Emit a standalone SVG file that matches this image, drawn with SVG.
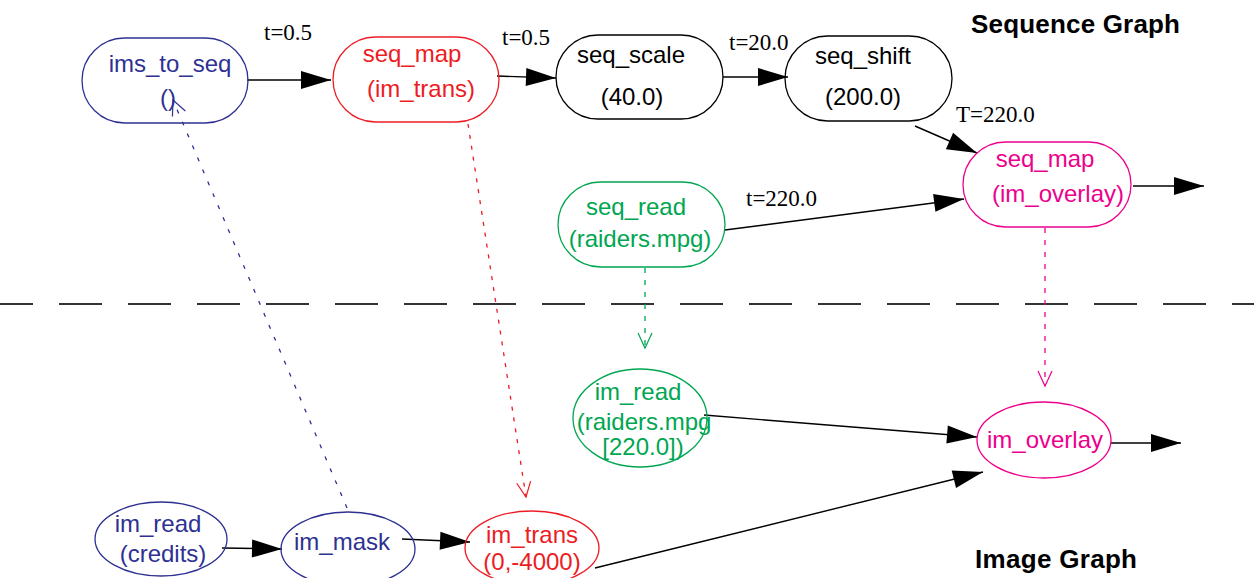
<svg xmlns="http://www.w3.org/2000/svg" width="1254" height="578" viewBox="0 0 1254 578">
<style>
.node{fill:none;stroke-width:1.3}
.nt{font-family:"Liberation Sans",Arial,sans-serif;font-size:24px;text-anchor:middle}
.lbl{font-family:"Liberation Serif","Times New Roman",serif;font-size:23px;fill:#000}
.title{font-family:"Liberation Sans",Arial,sans-serif;font-size:26px;font-weight:bold;fill:#000}
.edge{stroke:#000;stroke-width:1.4;fill:none;marker-end:url(#ah)}
.dash{stroke-width:1.3;fill:none;stroke-dasharray:5 7}
.blue{stroke:#2e3192}.tblue{fill:#2e3192}
.red{stroke:#ed1c24}.tred{fill:#ed1c24}
.green{stroke:#00a651}.tgreen{fill:#00a651}
.mag{stroke:#ec008c}.tmag{fill:#ec008c}
.blk{stroke:#000}.tblk{fill:#000}
</style>
<defs>
<marker id="ah" markerUnits="userSpaceOnUse" markerWidth="30" markerHeight="18" refX="30" refY="9" orient="auto" overflow="visible">
<path d="M0,0 L30,9 L0,18 z" fill="#000"/>
</marker>
<marker id="ob" markerUnits="userSpaceOnUse" markerWidth="16" markerHeight="14" refX="15" refY="7" orient="auto" overflow="visible">
<path d="M0,0 L15,7 L0,14" fill="none" stroke="#2e3192" stroke-width="1.2"/>
</marker>
<marker id="or" markerUnits="userSpaceOnUse" markerWidth="16" markerHeight="14" refX="15" refY="7" orient="auto" overflow="visible">
<path d="M0,0 L15,7 L0,14" fill="none" stroke="#ed1c24" stroke-width="1.2"/>
</marker>
<marker id="og" markerUnits="userSpaceOnUse" markerWidth="16" markerHeight="14" refX="15" refY="7" orient="auto" overflow="visible">
<path d="M0,0 L15,7 L0,14" fill="none" stroke="#00a651" stroke-width="1.2"/>
</marker>
<marker id="om" markerUnits="userSpaceOnUse" markerWidth="16" markerHeight="14" refX="15" refY="7" orient="auto" overflow="visible">
<path d="M0,0 L15,7 L0,14" fill="none" stroke="#ec008c" stroke-width="1.2"/>
</marker>
</defs>
<rect width="1254" height="578" fill="#fff"/>

<text class="title" x="971" y="33" textLength="209">Sequence Graph</text>
<text class="title" x="975" y="568" textLength="162">Image Graph</text>

<line x1="-10" y1="304" x2="1254" y2="304" stroke="#333" stroke-width="2" stroke-dasharray="43 26"/>

<g id="connectors">
<line class="edge" x1="247" y1="80" x2="331" y2="80"/>
<line class="edge" x1="497" y1="76" x2="556" y2="78"/>
<line class="edge" x1="723" y1="77" x2="788" y2="77"/>
<line class="edge" x1="915" y1="126" x2="977" y2="153"/>
<line class="edge" x1="725" y1="230" x2="964" y2="199"/>
<line class="edge" x1="1133" y1="186" x2="1204" y2="186"/>
<line class="edge" x1="704" y1="415" x2="977" y2="437"/>
<line class="edge" x1="595" y1="568" x2="983" y2="472"/>
<line class="edge" x1="1111" y1="443" x2="1181" y2="443"/>
<line class="edge" x1="222" y1="548" x2="282" y2="549"/>
<line class="edge" x1="402" y1="539" x2="470" y2="542"/>
<line class="dash blue" x1="347" y1="508" x2="173" y2="100" marker-end="url(#ob)" style="stroke-dasharray:4 9"/>
<line class="dash red" x1="468" y1="124" x2="526" y2="497" marker-end="url(#or)" style="stroke-dasharray:4 7"/>
<line class="dash green" x1="645" y1="268" x2="645" y2="348" marker-end="url(#og)"/>
<line class="dash mag" x1="1045" y1="228" x2="1045" y2="386" marker-end="url(#om)"/>
<text class="lbl" x="264" y="40">t=0.5</text>
<text class="lbl" x="502" y="45">t=0.5</text>
<text class="lbl" x="729" y="50">t=20.0</text>
<text class="lbl" x="956" y="122">T=220.0</text>
<text class="lbl" x="746" y="206">t=220.0</text>
</g>

<g id="ims_to_seq">
<rect class="node blue" x="82" y="38" width="166" height="85" rx="42.5"/>
<text class="nt tblue" x="170" y="72">ims_to_seq</text>
<text class="nt tblue" x="168" y="106">()</text>
</g>
<g id="seq_map_im_trans">
<rect class="node red" x="333" y="37" width="166" height="85" rx="42.5"/>
<text class="nt tred" x="412" y="62">seq_map</text>
<text class="nt tred" x="421" y="97">(im_trans)</text>
</g>
<g id="seq_scale">
<rect class="node blk" x="556" y="35" width="167" height="84" rx="42"/>
<text class="nt tblk" x="631" y="63">seq_scale</text>
<text class="nt tblk" x="632" y="105">(40.0)</text>
</g>
<g id="seq_shift">
<rect class="node blk" x="785" y="36" width="167" height="85" rx="42.5"/>
<text class="nt tblk" x="863" y="64">seq_shift</text>
<text class="nt tblk" x="863" y="105">(200.0)</text>
</g>
<g id="seq_map_im_overlay">
<rect class="node mag" x="963" y="142" width="168" height="85" rx="42.5"/>
<text class="nt tmag" x="1045" y="167">seq_map</text>
<text class="nt tmag" x="1058" y="202">(im_overlay)</text>
</g>
<g id="seq_read">
<rect class="node green" x="558" y="182" width="167" height="85" rx="42.5"/>
<text class="nt tgreen" x="636" y="215">seq_read</text>
<text class="nt tgreen" x="640" y="247">(raiders.mpg)</text>
</g>
<g id="im_read_raiders">
<ellipse class="node green" cx="640" cy="418" rx="67" ry="49"/>
<text class="nt tgreen" x="638" y="400">im_read</text>
<text class="nt tgreen" x="644" y="430">(raiders.mpg</text>
<text class="nt tgreen" x="643" y="455">[220.0])</text>
</g>
<g id="im_overlay">
<ellipse class="node mag" cx="1044" cy="440" rx="67" ry="38"/>
<text class="nt tmag" x="1045" y="448">im_overlay</text>
</g>
<g id="im_read_credits">
<ellipse class="node blue" cx="161" cy="539" rx="66" ry="37"/>
<text class="nt tblue" x="158" y="532">im_read</text>
<text class="nt tblue" x="163" y="562">(credits)</text>
</g>
<g id="im_mask">
<ellipse class="node blue" cx="348" cy="549" rx="67" ry="37"/>
<text class="nt tblue" x="342" y="550">im_mask</text>
</g>
<g id="im_trans">
<ellipse class="node red" cx="532" cy="548" rx="67" ry="37"/>
<text class="nt tred" x="532" y="543">im_trans</text>
<text class="nt tred" x="532" y="570">(0,-4000)</text>
</g>
</svg>
